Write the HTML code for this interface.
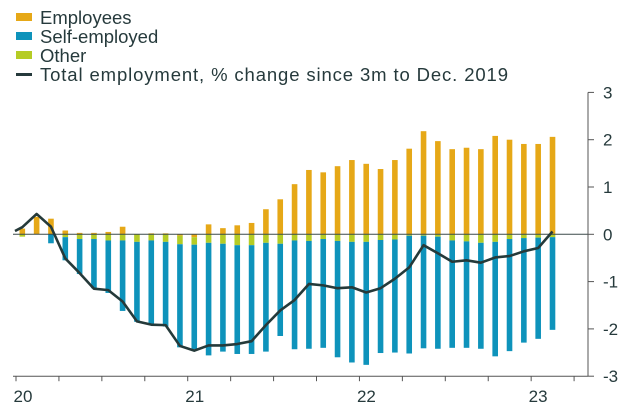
<!DOCTYPE html>
<html><head><meta charset="utf-8"><style>
body{margin:0;background:#fff;}
svg{display:block;font-family:"Liberation Sans",sans-serif;}
</style></head><body>
<svg id="c" width="636" height="417">
<g>
 <g><rect x="16" y="13" width="16" height="8" fill="#e6a817"/><text x="40" y="24" font-size="18.5" fill="#263a3c">Employees</text></g>
 <g><rect x="16" y="32" width="16" height="8" fill="#0e93bb"/><text x="40" y="43" font-size="18.5" fill="#263a3c">Self-employed</text></g>
 <g><rect x="16" y="51" width="16" height="8" fill="#b5cc25"/><text x="40" y="62" font-size="18.5" fill="#263a3c">Other</text></g>
 <g><rect x="16" y="73" width="16" height="3" fill="#263a3c"/><text x="40" y="81" font-size="18.5" fill="#263a3c" textLength="468">Total employment, % change since 3m to Dec. 2019</text></g>
</g>
<g id="plot"></g>
</svg>
<script>
const months=38;
const employees=[0.12,0.37,0.33,0.08,0.03,0.03,0.05,0.16,0,0.02,0.02,-0.03,-0.06,0.21,0.13,0.19,0.24,0.53,0.74,1.06,1.36,1.31,1.44,1.57,1.49,1.38,1.57,1.81,2.18,1.97,1.8,1.83,1.8,2.08,2.0,1.91,1.91,2.06];
const other=[-0.05,0,0,-0.06,-0.1,-0.1,-0.13,-0.13,-0.16,-0.13,-0.16,-0.18,-0.16,-0.18,-0.2,-0.23,-0.23,-0.18,-0.2,-0.13,-0.14,-0.1,-0.14,-0.16,-0.16,-0.12,-0.11,-0.03,-0.03,-0.05,-0.13,-0.15,-0.18,-0.16,-0.1,-0.08,-0.07,-0.06];
const selfEmployed=[0,0,-0.19,-0.49,-0.74,-1.04,-1.11,-1.49,-1.69,-1.76,-1.79,-2.18,-2.21,-2.38,-2.28,-2.3,-2.3,-2.3,-1.95,-2.3,-2.28,-2.3,-2.46,-2.55,-2.6,-2.39,-2.39,-2.49,-2.38,-2.37,-2.27,-2.25,-2.24,-2.42,-2.37,-2.21,-2.14,-1.96];
const total=[0.15,0.43,0.16,-0.51,-0.82,-1.15,-1.18,-1.42,-1.84,-1.91,-1.92,-2.36,-2.46,-2.35,-2.35,-2.32,-2.26,-1.92,-1.61,-1.39,-1.05,-1.08,-1.14,-1.12,-1.23,-1.14,-0.94,-0.7,-0.23,-0.4,-0.58,-0.55,-0.6,-0.49,-0.46,-0.36,-0.29,0.06];
const yTicks=[3,2,1,0,-1,-2,-3];
const yearLabels=["20","21","22","23"];

const NS="http://www.w3.org/2000/svg";
const plot=document.getElementById('plot');
const x=i=>22.3+i*14.33;
const y=v=>234.3-47.3*v;
function mk(t,a){const e=document.createElementNS(NS,t);for(const k in a)e.setAttribute(k,a[k]);plot.appendChild(e);return e;}
const bw=5.6;
for(let i=0;i<employees.length;i++){
  let pos=0,neg=0;
  const parts=[[employees[i],'#e6a817','bar-employees'],[other[i],'#b5cc25','bar-other'],[selfEmployed[i],'#0e93bb','bar-self-employed']];
  for(const [v,c,n] of parts){
    if(v===0)continue;
    let a,b;
    if(v>0){a=pos;b=pos+v;pos=b;}else{a=neg;b=neg+v;neg=b;}
    const r=mk('rect',{x:x(i)-bw/2,y:Math.min(y(a),y(b)),width:bw,height:Math.abs(y(a)-y(b)),fill:c});
    
    
  }
}
const zl=mk('line',{x1:13,x2:588,y1:y(0),y2:y(0),stroke:'#3b4a4a','stroke-width':1});


let d='M15 '+y(0.07);
total.forEach((v,i)=>{d+=' L'+x(i)+' '+y(v);});
const ln=mk('path',{d:d,fill:'none',stroke:'#253a3a','stroke-width':2.6,'stroke-linejoin':'round'});


// axes
const xa=mk('line',{x1:13,x2:588,y1:y(-3),y2:y(-3),stroke:'#555','stroke-width':1});


const ya=mk('line',{x1:588,x2:588,y1:y(3),y2:y(-3),stroke:'#555','stroke-width':1});


for(let q=0;q<=13;q++){
  const tx=16+q*3*14.31;
  if(tx>590)break;
  const t=mk('line',{x1:tx,x2:tx,y1:y(-3),y2:y(-3)+5,stroke:'#555'});
  
  
}
yearLabels.forEach((s,k)=>{
  const t=mk('text',{x:16+k*171.7+7,y:402,'font-size':17,fill:'#263a3c','text-anchor':'middle'});
  t.textContent=s;
  
  
});
yTicks.forEach(v=>{
  const t=mk('line',{x1:588,x2:594,y1:y(v),y2:y(v),stroke:'#555'});
  
  
  const l=mk('text',{x:603,y:y(v)+6,'font-size':17,fill:'#263a3c'});
  l.textContent=String(v);
  
  
});
</script>
</body></html>
